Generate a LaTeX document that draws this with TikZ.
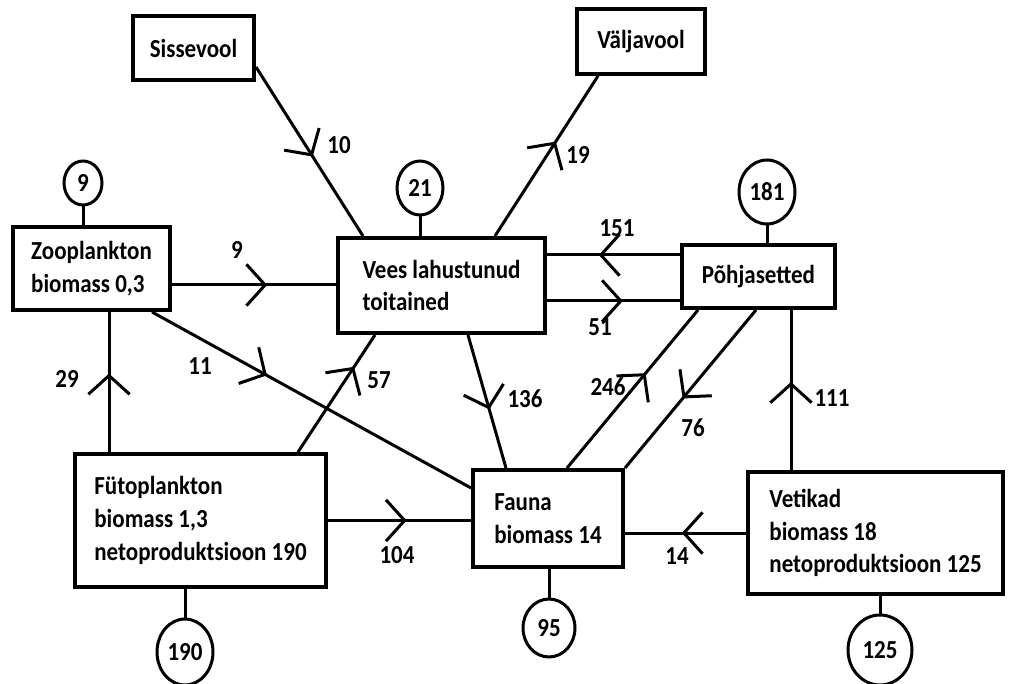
\documentclass[tikz,border=0pt]{standalone}
\usepackage{fontspec}
\setmainfont{Carlito}[FakeStretch=0.885]
\usetikzlibrary{
  shapes.geometric,
  calc,
  arrows.meta,
  decorations.markings,
  }

\begin{document}
\begin{tikzpicture}
                [x=0.75pt, y=-0.75pt,
                 every node/.style={font=\fontsize{19.5pt}{24.5pt}\selectfont\bfseries},
                 box/.style={draw, rectangle, line width=3pt, align=left},
                 ell/.style={draw, ellipse, line width=2.25pt, inner sep=0pt},
                 flow/.style={line width=2.25pt, postaction={decorate},
                   decoration={markings, mark=at position #1 with
                     {\arrow{Straight Barb[length=14pt, width=31pt]}}}}]
                \useasboundingbox (0,0) rectangle (1011,684);

                \node[box, minimum width=90.75pt, minimum height=48pt] (sisse) at (193.5,48) {Sissevool};
                \node[box, minimum width=96pt, minimum height=48.75pt] (valja) at (641,41.5) {Väljavool};
                \node[box, minimum width=117.75pt, minimum height=62.25pt] (zoo) at (91.5,268.5) {Zooplankton\\biomass 0,3};
                \node[box, minimum width=155.25pt, minimum height=71.25pt] (vees) at (441.5,285.5) {Vees lahustunud\\toitained};
                \node[box, minimum width=114.75pt, minimum height=47.25pt] (pohja) at (758.5,276.5) {Põhjasetted};
                \node[box, minimum width=188.25pt, minimum height=99.75pt] (futo) at (200.5,520.5) {Fütoplankton\\biomass 1,3\\netoproduktsioon 190};
                \node[box, minimum width=112.5pt, minimum height=72.75pt] (fauna) at (548,518.5) {Fauna\\biomass 14};
                \node[box, minimum width=191.25pt, minimum height=91.5pt] (vetik) at (875.5,533) {Vetikad\\biomass 18\\netoproduktsioon 125};

                \node[ell, minimum width=28.5pt, minimum height=33pt] (c9) at (83,183) {9};
                \node[ell, minimum width=34.5pt, minimum height=40.5pt] (c21) at (420,188) {21};
                \node[ell, minimum width=42pt, minimum height=48pt] (c181) at (767,192) {181};
                \node[ell, minimum width=42pt, minimum height=49.5pt] (c190) at (185,652) {190};
                \node[ell, minimum width=39pt, minimum height=43.5pt] (c95) at (549,628) {95};
                \node[ell, minimum width=48pt, minimum height=52.5pt] (c125) at (880,650) {125};

                \foreach \c\b in {c9/zoo,c21/vees,c181/pohja}
                    \draw[line width=2.25pt] (\c) -- (\c |- \b.north);
                \foreach \c\b in {c190/futo,c95/fauna,c125/vetik}
                    \draw[line width=2.25pt] (\c) -- (\c |- \b.south);

                \coordinate (a1) at ($(sisse.south east)+(0,-15)$);
                \coordinate (a2) at ($(vees.north west)+(27,0)$);
                \coordinate (b1) at ($(vees.north west)+(159,0)$);
                \coordinate (b2) at ($(valja.south west)+(23,0)$);
                \coordinate (c1) at ($(zoo.south east)+(0,-27)$);
                \coordinate (c2) at (c1 -| vees.west);
                \coordinate (d1) at ($(pohja.north west)+(0,12)$);
                \coordinate (d2) at (d1 -| vees.east);
                \coordinate (e1) at ($(vees.south east)+(0,-34)$);
                \coordinate (e2) at (e1 -| pohja.west);
                \coordinate (f1) at ($(zoo.south east)+(-20,0)$);
                \coordinate (f2) at ($(fauna.north west)+(0,20)$);
                \coordinate (g1) at ($(futo.north west)+(36,0)$);
                \coordinate (g2) at (g1 |- zoo.south);
                \coordinate (h1) at ($(futo.north west)+(225,0)$);
                \coordinate (h2) at ($(vees.south west)+(39,0)$);
                \coordinate (i1) at ($(vees.south west)+(132,0)$);
                \coordinate (i2) at ($(fauna.north west)+(35,0)$);
                \coordinate (j1) at ($(fauna.north west)+(96,0)$);
                \coordinate (j2) at ($(pohja.south west)+(18,0)$);
                \coordinate (k1) at ($(pohja.south west)+(76,0)$);
                \coordinate (k2) at (fauna.north east);
                \coordinate (m1) at ($(vetik.north west)+(45,0)$);
                \coordinate (m2) at (m1 |- pohja.south);
                \coordinate (p1) at (futo.east);
                \coordinate (p2) at (futo.east -| fauna.west);
                \coordinate (q1) at (vetik.west);
                \coordinate (q2) at (vetik.west -| fauna.east);

                \foreach \from\to\p in {a1/a2/.53,b1/b2/.59,c1/c2/.58,d1/d2/.61,e1/e2/.57,
                                        f1/f2/.36,g1/g2/.56,h1/h2/.73,i1/i2/.56,j1/j2/.6,
                                        k1/k2/.56,m1/m2/.55,p1/p2/.55,q1/q2/.53}
                    \draw[flow=\p] (\from) -- (\to);

                \node (l10) at (339,145) {10};
                \node (l19) at (578,155) {19};
                \node (l9) at (237,250) {9};
                \node (l151) at (617,228) {151};
                \node (l51) at (600,327) {51};
                \node (l11) at (200,366) {11};
                \node (l29) at (67,379) {29};
                \node (l57) at (379,380) {57};
                \node (l136) at (525,399) {136};
                \node (l246) at (608,387) {246};
                \node (l76) at (693,428) {76};
                \node (l111) at (832,398) {111};
                \node (l104) at (397,555) {104};
                \node (l14) at (677,556) {14};

            \end{tikzpicture}
\end{document}
